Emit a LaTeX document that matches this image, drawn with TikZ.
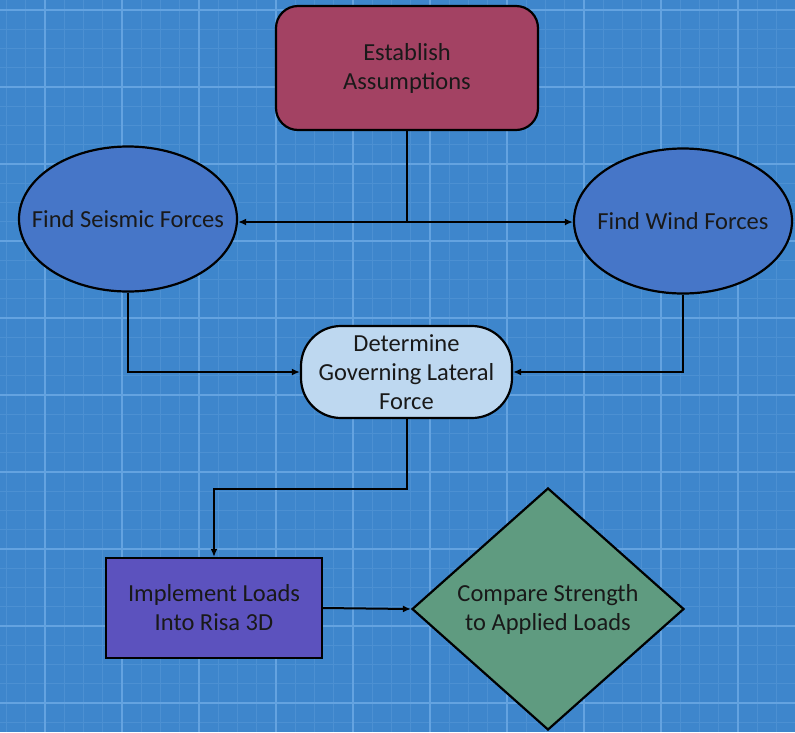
\documentclass[tikz,border=0pt]{standalone}
\usepackage{fontspec}
\setmainfont{Carlito}
\usetikzlibrary{shapes.geometric,shapes.misc,arrows.meta}
\definecolor{bgblue}{RGB}{62,134,204}
\definecolor{gridminor}{RGB}{76,144,210}
\definecolor{gridmajor}{RGB}{100,163,224}
\definecolor{estfill}{RGB}{163,66,99}
\definecolor{ellfill}{RGB}{70,118,200}
\definecolor{detfill}{RGB}{190,216,240}
\definecolor{implfill}{RGB}{92,82,190}
\definecolor{compfill}{RGB}{95,155,128}
\definecolor{txt}{RGB}{25,25,25}
\tikzset{
  shapebox/.style={draw=black, line width=2.2pt, text=txt, align=center, font=\fontsize{24.5}{29}\selectfont, inner sep=0pt},
  conn/.style={draw=black, line width=2pt, -{Latex[length=8pt,width=7pt]}},
  plainconn/.style={draw=black, line width=2pt},
  labeltext/.style={text=txt, align=center, font=\fontsize{24.5}{29}\selectfont, inner sep=0pt}
}
\begin{document}
\begin{tikzpicture}[x=1pt,y=-1pt]
\useasboundingbox (0,0) rectangle (795,732);
\fill[bgblue] (0,0) rectangle (795,732);
% minor grid
\foreach \i in {0,...,41} {
  \draw[gridminor, line width=1pt] ({6.5+\i*19.25},0) -- ({6.5+\i*19.25},732);
}
\foreach \i in {0,...,38} {
  \draw[gridminor, line width=1pt] (0,{10-19.25+\i*19.25}) -- (795,{10-19.25+\i*19.25});
}
% major grid
\foreach \i in {0,...,9} {
  \draw[gridmajor, line width=1.6pt] ({45+\i*77},0) -- ({45+\i*77},732);
  \draw[gridmajor, line width=1.6pt] (0,{10+\i*77}) -- (795,{10+\i*77});
}
% nodes
\node[shapebox, fill=estfill, rectangle, rounded corners=22pt, minimum width=262pt, minimum height=124pt] (est) at (407,68) {Establish\\Assumptions};
\node[shapebox, fill=ellfill, ellipse, minimum width=218pt, minimum height=145pt] (seis) at (128,219) {};
\node[labeltext] (seistext) at (seis) {Find Seismic Forces};
\node[shapebox, fill=ellfill, ellipse, minimum width=218pt, minimum height=145pt] (wind) at (683,221) {};
\node[labeltext] (windtext) at (wind) {Find Wind Forces};
\node[shapebox, fill=detfill, rectangle, rounded corners=40pt, minimum width=211pt, minimum height=92pt] (det) at (406.5,372) {Determine\\Governing Lateral\\Force};
\node[shapebox, fill=implfill, rectangle, minimum width=216pt, minimum height=100pt] (impl) at (214,608) {Implement Loads\\Into Risa 3D};
\node[shapebox, fill=compfill, diamond, minimum width=272pt, minimum height=242pt] (comp) at (548,609) {};
\node[labeltext] (comptext) at (comp) {Compare Strength\\to Applied Loads};
% connectors
\coordinate (j) at (est.south |- 0,222);
\draw[plainconn] (est.south) -- (j);
\draw[conn] (j) -- (j -| seis.east);
\draw[conn] (j) -- (j -| wind.west);
\draw[conn] (seis.south) |- (det.west);
\draw[conn] (wind.south) |- (det.east);
\draw[conn] (det.south) -- ++(0,70) -| (impl.north);
\draw[conn] (impl.east) -- (comp.west);
\end{tikzpicture}
\end{document}
